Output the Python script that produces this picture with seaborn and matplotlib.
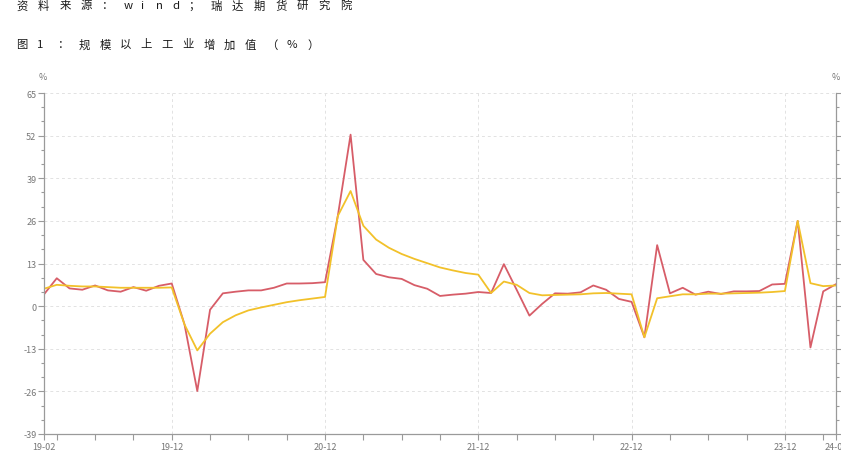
import pandas as pd
import seaborn as sns
import matplotlib.pyplot as plt
from matplotlib.ticker import MultipleLocator

# monthly data, 2019-02 .. 2024-04
months = pd.date_range('2019-02-01', '2024-04-01', freq='MS')
monthly_yoy = [
    3.6, 8.5, 5.4, 5.0, 6.3, 4.8, 4.4, 5.8, 4.7, 6.2, 6.9,
    -5.6, -25.9, -1.1, 3.9, 4.4, 4.8, 4.8, 5.6, 6.9, 6.9, 7.0, 7.3,
    27.5, 52.3, 14.1, 9.8, 8.8, 8.3, 6.4, 5.3, 3.1, 3.5, 3.8, 4.3,
    4.0, 12.8, 5.0, -2.9, 0.7, 3.9, 3.8, 4.2, 6.3, 5.0, 2.2, 1.3,
    -9.5, 18.6, 3.9, 5.6, 3.5, 4.4, 3.7, 4.5, 4.5, 4.6, 6.6, 6.8,
    26.0, -12.6, 4.5, 6.7,
]
cumulative_yoy = [
    5.3, 6.5, 6.2, 6.0, 6.0, 5.8, 5.6, 5.6, 5.6, 5.6, 5.7,
    -5.6, -13.5, -8.4, -4.9, -2.8, -1.3, -0.4, 0.4, 1.2, 1.8, 2.3, 2.8,
    27.5, 35.1, 24.5, 20.3, 17.8, 15.9, 14.4, 13.1, 11.8, 10.9, 10.1, 9.6,
    4.0, 7.5, 6.5, 4.0, 3.3, 3.4, 3.5, 3.6, 3.9, 4.0, 3.8, 3.6,
    -9.5, 2.4, 3.0, 3.6, 3.6, 3.8, 3.8, 3.9, 4.0, 4.1, 4.3, 4.6,
    26.0, 7.0, 6.1, 6.3,
]
series_names = ['中国:规模以上工业增加值:当月同比', '中国:规模以上工业增加值:累计同比']
source_text = '资料来源：wind；瑞达期货研究院'
title_text = '图1：规模以上工业增加值（%）'

sns.set_theme(style='white')
plt.rcParams['font.family'] = ['Noto Sans CJK SC', 'DejaVu Sans']
plt.rcParams['axes.unicode_minus'] = False

df = pd.DataFrame({
    'pos': list(range(len(months))) * 2,
    'value': monthly_yoy + cumulative_yoy,
    'series': [series_names[0]] * len(months) + [series_names[1]] * len(months),
})

fig = plt.figure(figsize=(8.41, 4.64), dpi=100)
ax = fig.add_axes([44 / 841, 1 - 435 / 464, (836 - 44) / 841, (435 - 94) / 464])

sns.lineplot(data=df, x='pos', y='value', hue='series', palette=['#d75d68', '#f2c12a'],
             linewidth=1.3, ax=ax)

grey = '#9a9a9a'
ax.set_xlim(0, len(months) - 1)
ax.set_ylim(-39, 65)
ax.yaxis.set_major_locator(MultipleLocator(13))
ax.yaxis.set_minor_locator(MultipleLocator(13 / 3))

tick_pos = [i for i, m in enumerate(months) if m.month % 3 == 0 or i in (0, len(months) - 1)]
labels = []
for i in tick_pos:
    m = months[i]
    if m.month == 12 or i in (0, len(months) - 1):
        labels.append(m.strftime('%y-%m'))
    else:
        labels.append('')
ax.set_xticks(tick_pos)
ax.set_xticklabels(labels)
ax.set_xlabel('')
ax.set_ylabel('')

ax.grid(axis='y', which='major', linestyle=(0, (3, 3)), color='#e2e2e2', linewidth=0.7)
for i, m in enumerate(months):
    if m.month == 12:
        ax.axvline(i, linestyle=(0, (3, 3)), color='#e2e2e2', linewidth=0.7, zorder=0)

ax.tick_params(axis='both', which='major', labelsize=6.5, labelcolor='#777777', color=grey,
               length=4, width=0.8, pad=1.5, left=True, bottom=True)
ax.tick_params(axis='y', which='minor', color=grey, length=2.5, width=0.8, left=True)
for side in ['left', 'bottom']:
    ax.spines[side].set_color(grey)
    ax.spines[side].set_linewidth(0.9)
ax.spines['top'].set_visible(False)
ax.spines['right'].set_visible(False)

ax2 = ax.twinx()
ax2.set_ylim(-39, 65)
ax2.yaxis.set_major_locator(MultipleLocator(13))
ax2.yaxis.set_minor_locator(MultipleLocator(13 / 3))
ax2.tick_params(axis='y', which='major', color=grey, length=4, width=0.8, labelsize=6.5,
                labelcolor='#777777')
ax2.tick_params(axis='y', which='minor', color=grey, length=2.5, width=0.8)
for s in ax2.spines.values():
    s.set_visible(False)
ax2.spines['right'].set_visible(True)
ax2.spines['right'].set_color(grey)
ax2.spines['right'].set_linewidth(0.9)

fig.text(43 / 841, 1 - 78 / 464, '%', fontsize=6.5, color='#777777', ha='center', va='center')
fig.text(836 / 841, 1 - 78 / 464, '%', fontsize=6.5, color='#777777', ha='center', va='center')

# letter-spaced heading lines
def spaced(text, x0, y, cjk_step, latin_step):
    x = x0
    for ch in text:
        fig.text(x / 841, 1 - y / 464, ch, fontsize=8.2, color='#1a1a1a', ha='left', va='center')
        x += latin_step if ch.isascii() and ch != '%' else cjk_step

spaced(source_text, 16, 6, 21.6, 16.2)
spaced(title_text, 16, 45, 20.8, 20.8)

leg = ax.legend(loc='upper center', bbox_to_anchor=(0.5, -0.085), ncol=2, frameon=False,
                fontsize=7, labelcolor='#555555', handlelength=3, columnspacing=3)

fig.savefig('out.png', dpi=100)
